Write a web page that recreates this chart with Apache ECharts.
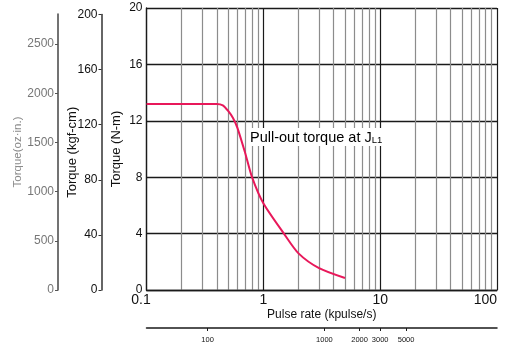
<!DOCTYPE html>
<html><head><meta charset="utf-8">
<script src="https://cdn.jsdelivr.net/npm/echarts@6/dist/echarts.min.js"></script>
<style>html,body{margin:0;padding:0;background:#fff}#c{width:507px;height:346px}</style>
</head><body><div id="c"></div>
<script>
// ---- data ----
const pulseRate = [0.1, 0.2, 0.3, 0.4, 0.45, 0.5, 0.55, 0.6, 0.7, 0.8, 1, 1.5, 2, 3, 5];
const torqueNm  = [13.2, 13.2, 13.2, 13.2, 13.1, 12.7, 12.2, 11.5, 9.7, 8.0, 6.15, 4.0, 2.6, 1.55, 0.85];
const pulseTickLabels = [0.1, 1, 10, 100];
const pulseGridValues = [0.1,0.2,0.3,0.4,0.5,0.6,0.7,0.8,0.9,1,2,3,4,5,6,7,8,9,10,20,30,40,50,60,70,80,90,100];
const nmTicks  = [0, 4, 8, 12, 16, 20];
const kgfTicks = [0, 40, 80, 120, 160, 200];
const ozTicks  = [0, 500, 1000, 1500, 2000, 2500];
const rpmTicks = [100, 1000, 2000, 3000, 5000];
const seriesName = 'Pull-out torque at JL1';

const FONT = 'Liberation Sans, Arial, sans-serif';
const gridColors = pulseGridValues.map(v => pulseTickLabels.indexOf(v) >= 0 ? '#1a1a1a' : '#8c8c8c');
const plain = v => String(v);

const chart = echarts.init(document.getElementById('c'), null, {renderer: 'canvas'});
chart.setOption({
  animation: false,
  backgroundColor: '#fff',
  grid: [
    {left: 146.5, right: 10, top: 8, bottom: 56},
    {left: 101.5, width: 1, top: 14.5, bottom: 56},
    {left: 58, width: 1, top: 14, bottom: 56},
    {left: 146.5, right: 10, top: 300, bottom: 18}
  ],
  xAxis: [
    {
      gridIndex: 0, type: 'log', logBase: 10, min: 0.1, max: 100,
      name: 'Pulse rate (kpulse/s)', nameLocation: 'middle', nameGap: 19, nameMoveOverlap: false,
      nameTextStyle: {fontFamily: FONT, fontSize: 12, color: '#111'},
      axisLine: {show: true, lineStyle: {color: '#1a1a1a', width: 1.3}},
      axisTick: {show: false, customValues: pulseGridValues},
      axisLabel: {
        customValues: pulseTickLabels, margin: 3, fontFamily: FONT, fontSize: 14, color: '#111',
        alignMaxLabel: 'right',
        formatter: v => v === 0.1 ? '{m|0.1}' : String(v),
        rich: {m: {fontFamily: FONT, fontSize: 14, color: '#111', padding: [0, 11, 0, 0]}}
      },
      splitLine: {show: true, lineStyle: {color: gridColors, width: 1.2}}
    },
    {gridIndex: 1, type: 'value', show: false, min: 0, max: 1},
    {gridIndex: 2, type: 'value', show: false, min: 0, max: 1},
    {
      gridIndex: 3, type: 'log', logBase: 10, min: 30, max: 30000, position: 'bottom',
      axisLine: {show: true, lineStyle: {color: '#1a1a1a', width: 1.5}},
      axisTick: {show: true, length: 3, customValues: rpmTicks, lineStyle: {color: '#1a1a1a'}},
      axisLabel: {customValues: rpmTicks, margin: 8, formatter: plain, fontFamily: 'Liberation Sans Narrow, Liberation Sans, sans-serif', fontSize: 7.5, color: '#111'},
      splitLine: {show: false}
    }
  ],
  yAxis: [
    {
      gridIndex: 0, type: 'value', min: 0, max: 20, interval: 4,
      name: 'Torque (N-m)', nameLocation: 'middle', nameGap: 23.5, nameMoveOverlap: false,
      nameTextStyle: {fontFamily: FONT, fontSize: 13, color: '#111'},
      axisLine: {show: true, lineStyle: {color: '#1a1a1a', width: 1.3}},
      axisTick: {show: false},
      axisLabel: {customValues: nmTicks, formatter: plain, margin: 4, fontFamily: FONT, fontSize: 12, color: '#111'},
      splitLine: {show: true, lineStyle: {color: '#1a1a1a', width: 1.3}}
    },
    {
      gridIndex: 1, type: 'value', min: 0, max: 200, interval: 40,
      name: 'Torque (kgf-cm)', nameLocation: 'middle', nameGap: 23, nameMoveOverlap: false,
      nameTextStyle: {fontFamily: FONT, fontSize: 13, color: '#111'},
      axisLine: {show: true, lineStyle: {color: '#333', width: 1.5}},
      axisTick: {show: true, length: 3, customValues: kgfTicks, lineStyle: {color: '#333'}},
      axisLabel: {customValues: kgfTicks, formatter: plain, margin: 4, fontFamily: FONT, fontSize: 12, color: '#111'},
      splitLine: {show: false}
    },
    {
      gridIndex: 2, type: 'value', min: 0, max: 2805,
      name: 'Torque(oz·in.)', nameLocation: 'middle', nameGap: 34, nameMoveOverlap: false,
      nameTextStyle: {fontFamily: FONT, fontSize: 11.5, color: '#8a8a8a'},
      axisLine: {show: true, lineStyle: {color: '#444', width: 1.5}},
      axisTick: {show: true, length: 3, customValues: ozTicks, lineStyle: {color: '#555'}},
      axisLabel: {customValues: ozTicks, formatter: plain, margin: 4, fontFamily: FONT, fontSize: 12, color: '#777'},
      splitLine: {show: false}
    },
    {gridIndex: 3, type: 'value', show: false, min: 0, max: 1}
  ],
  series: [{
    name: seriesName, type: 'line', xAxisIndex: 0, yAxisIndex: 0,
    data: pulseRate.map((x, i) => [x, torqueNm[i]]),
    smooth: 0.25, showSymbol: false, symbol: 'none',
    lineStyle: {color: '#e8185a', width: 2},
    z: 5
  }],
  graphic: [{
    type: 'text', left: 249, top: 128, z: 10,
    style: {
      text: '{a|Pull-out torque at J}{s|L1}',
      backgroundColor: '#fff', padding: [1, 2, 1, 1],
      rich: {
        a: {fontFamily: FONT, fontSize: 14.5, color: '#444', verticalAlign: 'bottom', lineHeight: 16},
        s: {fontFamily: FONT, fontSize: 9.5, color: '#444', verticalAlign: 'bottom', lineHeight: 14}
      }
    }
  }]
});
</script></body></html>
